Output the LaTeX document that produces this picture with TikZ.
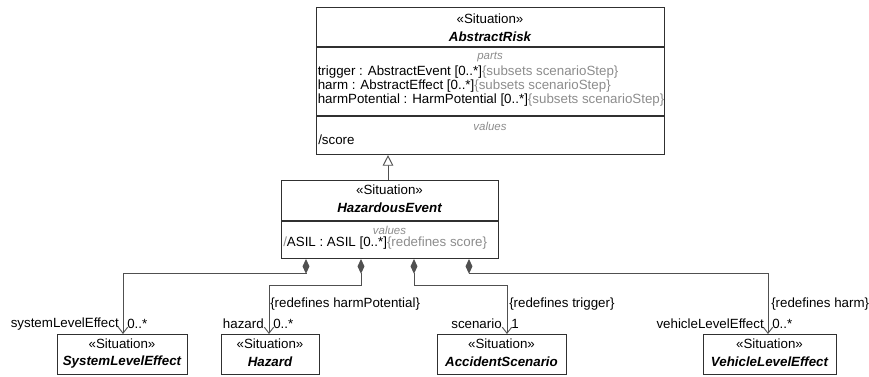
\documentclass[tikz,border=0pt]{standalone}
\usepackage{fontspec}
\setmainfont{Liberation Sans}
\usetikzlibrary{arrows.meta}
\definecolor{ln}{HTML}{505050}
\definecolor{bx}{HTML}{303030}
\definecolor{gtxt}{HTML}{8C8C8C}
\begin{document}
\begin{tikzpicture}[x=0.75pt,y=-0.75pt,
  font=\fontsize{10}{11}\selectfont,
  box/.style={draw=bx, line width=0.8pt, inner sep=0pt, anchor=north west},
  sep/.style={draw=bx, line width=0.8pt},
  txt/.style={inner sep=0pt},
  lft/.style={inner sep=0pt, anchor=west},
  rgt/.style={inner sep=0pt, anchor=east},
  nm/.style={inner sep=0pt, font=\fontsize{10}{11}\selectfont\bfseries\itshape},
  cmp/.style={inner sep=0pt, text=gtxt, font=\fontsize{8.6}{10}\selectfont\itshape},
  comp/.style={draw=ln, line width=0.7pt,
    {Diamond[length=11pt,width=5.2pt,fill=ln]}-{Straight Barb[length=4.5pt,width=7pt]}},
  gen/.style={draw=ln, line width=0.7pt, -{Triangle[open,length=8pt,width=8pt,fill=white]}}
]
\useasboundingbox (0,0) rectangle (869,377);

% ---------- AbstractRisk ----------
\node[box, minimum width={348*0.75pt}, minimum height={147*0.75pt}] (ar) at (316,7) {};
\draw[sep] (316,47) -- (664,47);
\draw[sep] (316,116) -- (664,116);
\node[txt] (arst) at (490,19) {«Situation»};
\node[nm] (arnm) at (490,37) {AbstractRisk};
\node[cmp] (arparts) at (490,57) {parts};
\node[lft] (p1) at (317.5,72) {trigger : AbstractEvent [0..*]\textcolor{gtxt}{\{subsets scenarioStep\}}};
\node[lft] (p2) at (317.5,86) {harm : AbstractEffect [0..*]\textcolor{gtxt}{\{subsets scenarioStep\}}};
\node[lft] (p3) at (317.5,100.5) {harmPotential : HarmPotential [0..*]\textcolor{gtxt}{\{subsets scenarioStep\}}};
\node[cmp] (arvals) at (490,126) {values};
\node[lft] (v1) at (318,140) {/score};

% ---------- HazardousEvent ----------
\node[box, minimum width={217*0.75pt}, minimum height={78*0.75pt}] (he) at (281,180) {};
\draw[sep] (281,221) -- (498,221);
\node[txt] (hest) at (389.5,190) {«Situation»};
\node[nm] (henm) at (389.5,208) {HazardousEvent};
\node[cmp] (hevals) at (389.5,230) {values};
\node[lft] (hv1) at (283,243) {\textcolor{gtxt}{/}ASIL : ASIL [0..*]\textcolor{gtxt}{\{redefines score\}}};

% generalization
\coordinate (gx) at (388,0);
\draw[gen] (he.north -| gx) -- (ar.south -| gx);

% ---------- bottom boxes ----------
\node[box, minimum width={130*0.75pt}, minimum height={40*0.75pt}] (sle) at (57,334) {};
\node[txt] at (122,344) {«Situation»};
\node[nm] at (122,362) {SystemLevelEffect};

\node[box, minimum width={98*0.75pt}, minimum height={40*0.75pt}] (hz) at (221,334) {};
\node[txt] at (270,344) {«Situation»};
\node[nm] at (270,362) {Hazard};

\node[box, minimum width={129*0.75pt}, minimum height={40*0.75pt}] (as) at (437,334) {};
\node[txt] at (501.5,344) {«Situation»};
\node[nm] at (501.5,362) {AccidentScenario};

\node[box, minimum width={133*0.75pt}, minimum height={40*0.75pt}] (vle) at (703,334) {};
\node[txt] at (769.5,344) {«Situation»};
\node[nm] at (769.5,362) {VehicleLevelEffect};

% ---------- compositions ----------
\coordinate (k1) at (306,273);
\coordinate (e1) at (123,273);
\coordinate (k2) at (361,285);
\coordinate (e2) at (269,285);
\coordinate (k3) at (414,285);
\coordinate (e3) at (507,285);
\coordinate (k4) at (469,273);
\coordinate (e4) at (768,273);

\draw[comp] (he.south -| k1) -- (k1) -- (e1) -- (sle.north -| e1);
\draw[comp] (he.south -| k2) -- (k2) -- (e2) -- (hz.north -| e2);
\draw[comp] (he.south -| k3) -- (k3) -- (e3) -- (as.north -| e3);
\draw[comp] (he.south -| k4) -- (k4) -- (e4) -- (vle.north -| e4);

% ---------- role labels ----------
\node[rgt] (r1) at (119,324) {systemLevelEffect};
\node[lft] (m1) at (127,324) {0..*};

\node[lft] (c2) at (270,304) {\{redefines harmPotential\}};
\node[rgt] (r2) at (264,324) {hazard};
\node[lft] (m2) at (273,324) {0..*};

\node[lft] (c3) at (509,304) {\{redefines trigger\}};
\node[rgt] (r3) at (502,324) {scenario};
\node[lft] (m3) at (511,324) {1};

\node[lft] (c4) at (771,304) {\{redefines harm\}};
\node[rgt] (r4) at (764,324) {vehicleLevelEffect};
\node[lft] (m4) at (772,324) {0..*};
\end{tikzpicture}
\end{document}
